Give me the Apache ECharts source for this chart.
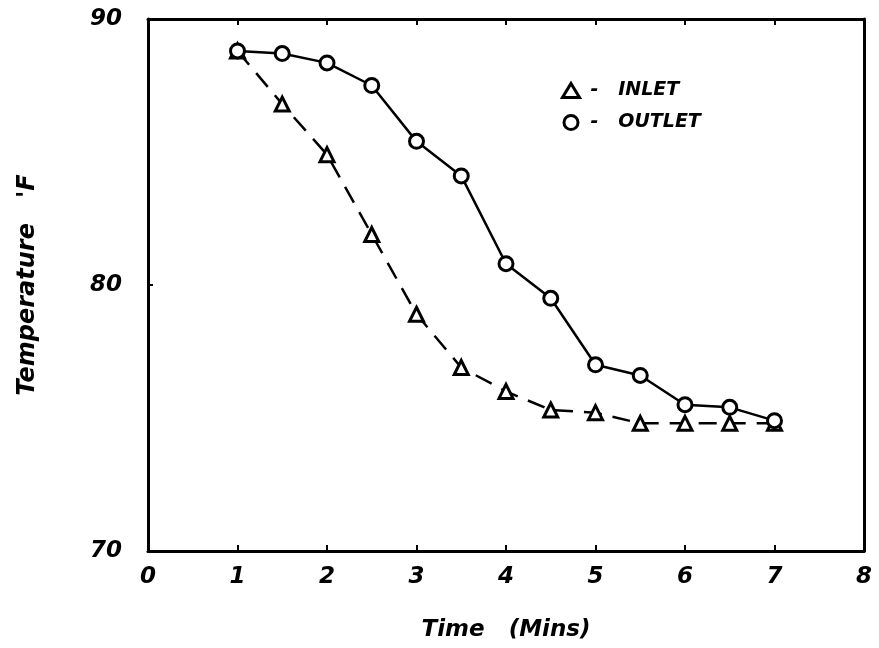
<!DOCTYPE html>
<html>
<head>
<meta charset="utf-8">
<script src="https://cdn.jsdelivr.net/npm/echarts@6/dist/echarts.min.js"></script>
<style>
html,body{margin:0;padding:0;background:#fff;}
#c{width:879px;height:648px;}
</style>
</head>
<body>
<div id="c"></div>
<script>
const times = [1, 1.5, 2, 2.5, 3, 3.5, 4, 4.5, 5, 5.5, 6, 6.5, 7];
const inletTemps = [88.8, 86.8, 84.9, 81.9, 78.9, 76.9, 76.0, 75.3, 75.2, 74.8, 74.8, 74.8, 74.8];
const outletTemps = [88.8, 88.7, 88.35, 87.5, 85.4, 84.1, 80.8, 79.5, 77.0, 76.6, 75.5, 75.4, 74.9];
const xTicks = [0, 1, 2, 3, 4, 5, 6, 7, 8];
const yTicks = [70, 80, 90];

const font = {fontFamily: 'DejaVu Sans', fontWeight: 'bold', fontStyle: 'italic', color: '#000'};
const chart = echarts.init(document.getElementById('c'));
chart.setOption({
  animation: false,
  backgroundColor: '#fff',
  grid: {left: 148, right: 15, top: 19, bottom: 97, show: false},
  legend: {
    orient: 'vertical', left: 556, top: 76, itemGap: 13, itemWidth: 17, itemHeight: 14,
    textStyle: Object.assign({fontSize: 19, padding: [0, 0, 0, 6]}, font),
    data: [
      {name: 'INLET', icon: 'triangle', itemStyle: {color: '#fff', borderColor: '#000', borderWidth: 3}},
      {name: 'OUTLET', icon: 'circle', itemStyle: {color: '#fff', borderColor: '#000', borderWidth: 3}}
    ],
    formatter: n => '-   ' + n
  },
  xAxis: [{
    type: 'value', min: xTicks[0], max: xTicks[xTicks.length - 1], interval: 1,
    name: 'Time   (Mins)', nameLocation: 'middle', nameGap: 68,
    nameTextStyle: Object.assign({fontSize: 23}, font),
    axisLine: {show: true, onZero: false, lineStyle: {color: '#000', width: 3}},
    axisTick: {show: true, inside: true, length: 6, lineStyle: {color: '#000', width: 2}},
    axisLabel: Object.assign({fontSize: 23, margin: 15}, font),
    splitLine: {show: false}
  }, {
    type: 'value', position: 'top', min: xTicks[0], max: xTicks[xTicks.length - 1], interval: 1,
    axisLine: {show: true, onZero: false, lineStyle: {color: '#000', width: 3}},
    axisTick: {show: true, inside: true, length: 6, lineStyle: {color: '#000', width: 2}},
    axisLabel: {show: false}, splitLine: {show: false}
  }],
  yAxis: [{
    type: 'value', min: yTicks[0], max: yTicks[yTicks.length - 1], interval: 10,
    name: "Temperature   'F", nameLocation: 'middle', nameGap: 108,
    nameTextStyle: Object.assign({fontSize: 24}, font),
    axisLine: {show: true, onZero: false, lineStyle: {color: '#000', width: 3}},
    axisTick: {show: true, inside: true, length: 5, lineStyle: {color: '#000', width: 2}},
    axisLabel: Object.assign({fontSize: 23, margin: 26}, font),
    splitLine: {show: false}
  }, {
    type: 'value', position: 'right', min: yTicks[0], max: yTicks[yTicks.length - 1], interval: 10,
    axisLine: {show: true, onZero: false, lineStyle: {color: '#000', width: 3}},
    axisTick: {show: false},
    axisLabel: {show: false}, splitLine: {show: false}
  }],
  series: [{
    name: 'INLET', type: 'line',
    data: times.map((t, i) => [t, inletTemps[i]]),
    symbol: 'triangle', symbolSize: 14,
    itemStyle: {color: '#fff', borderColor: '#000', borderWidth: 3},
    lineStyle: {color: '#000', width: 2.5, type: [18, 11]},
    z: 2
  }, {
    name: 'OUTLET', type: 'line',
    data: times.map((t, i) => [t, outletTemps[i]]),
    symbol: 'circle', symbolSize: 14,
    itemStyle: {color: '#fff', borderColor: '#000', borderWidth: 3},
    lineStyle: {color: '#000', width: 2.5},
    z: 3
  }]
});
</script>
</body>
</html>
